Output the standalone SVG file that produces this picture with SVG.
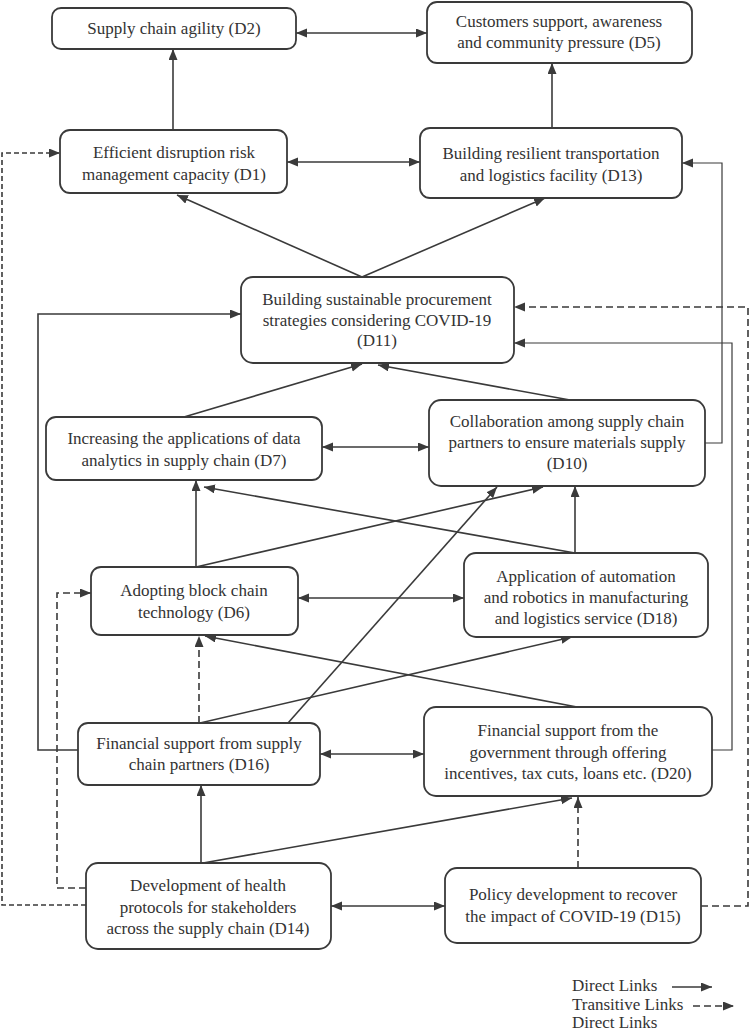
<svg xmlns="http://www.w3.org/2000/svg" width="750" height="1032" viewBox="0 0 750 1032">
<defs>
<marker id="ah" markerUnits="userSpaceOnUse" markerWidth="12" markerHeight="10" refX="11" refY="4.5" orient="auto-start-reverse">
<path d="M0,0 L11,4.5 L0,9 z" fill="#3a3a3a"/>
</marker>
</defs>
<style>
.box{fill:#fff;stroke:#3a3a3a;stroke-width:1.8}
.t{font-family:"Liberation Serif","Times New Roman",serif;font-size:17px;fill:#333;text-anchor:middle}
.lt{font-family:"Liberation Serif","Times New Roman",serif;font-size:17px;fill:#333}
.c{fill:none;stroke:#3a3a3a;stroke-width:1.6}
.thin{stroke-width:1.2}
.d{stroke-dasharray:7,4}
.ds{stroke-dasharray:5,3}
</style>
<rect width="750" height="1032" fill="#fff"/>
<g id="connectors">
<line class="c" x1="296" y1="33" x2="427" y2="33" marker-start="url(#ah)" marker-end="url(#ah)"/>
<line class="c" x1="173" y1="130" x2="173" y2="49" marker-end="url(#ah)"/>
<line class="c" x1="552" y1="128" x2="552" y2="63" marker-end="url(#ah)"/>
<line class="c" x1="287" y1="162" x2="420" y2="162" marker-start="url(#ah)" marker-end="url(#ah)"/>
<line class="c" x1="362" y1="277" x2="177" y2="195" marker-end="url(#ah)"/>
<line class="c" x1="362" y1="277" x2="545" y2="198" marker-end="url(#ah)"/>
<line class="c" x1="184" y1="417" x2="362" y2="364" marker-end="url(#ah)"/>
<line class="c" x1="570" y1="400" x2="378" y2="365" marker-end="url(#ah)"/>
<line class="c" x1="322" y1="447" x2="429" y2="447" marker-start="url(#ah)" marker-end="url(#ah)"/>
<polyline class="c thin" points="705,443 722,443 722,163 682,163" marker-end="url(#ah)"/>
<polyline class="c thin" points="712,750 732,750 732,343 514,343" marker-end="url(#ah)"/>
<polyline class="c d" points="701,906 748,906 748,307 514,307" marker-end="url(#ah)"/>
<polyline class="c ds" points="86,905 2,905 2,153 60,153" marker-end="url(#ah)"/>
<polyline class="c" points="78,750 38,750 38,314 241,314" marker-end="url(#ah)"/>
<line class="c" x1="196" y1="567" x2="196" y2="480" marker-end="url(#ah)"/>
<line class="c" x1="196" y1="567" x2="543" y2="487" marker-end="url(#ah)"/>
<line class="c" x1="575" y1="553" x2="575" y2="486" marker-end="url(#ah)"/>
<line class="c" x1="575" y1="553" x2="204" y2="487" marker-end="url(#ah)"/>
<line class="c" x1="298" y1="598" x2="464" y2="598" marker-start="url(#ah)" marker-end="url(#ah)"/>
<line class="c d" x1="199" y1="723" x2="199" y2="636" marker-end="url(#ah)"/>
<line class="c" x1="200" y1="723" x2="572" y2="637" marker-end="url(#ah)"/>
<line class="c" x1="288" y1="723" x2="497" y2="487" marker-end="url(#ah)"/>
<line class="c" x1="577" y1="707" x2="205" y2="636" marker-end="url(#ah)"/>
<line class="c" x1="320" y1="754" x2="424" y2="754" marker-start="url(#ah)" marker-end="url(#ah)"/>
<polyline class="c d" points="86,888 57,888 57,593 91,593" marker-end="url(#ah)"/>
<line class="c" x1="201" y1="863" x2="201" y2="785" marker-end="url(#ah)"/>
<line class="c" x1="203" y1="863" x2="572" y2="798" marker-end="url(#ah)"/>
<line class="c" x1="331" y1="906" x2="445" y2="906" marker-start="url(#ah)" marker-end="url(#ah)"/>
<line class="c d" x1="578" y1="868" x2="578" y2="797" marker-end="url(#ah)"/>
</g>
<g id="D2"><rect class="box" x="52" y="8" width="244" height="41" rx="9"/><text class="t" x="174" y="34">Supply chain agility (D2)</text></g>
<g id="D5"><rect class="box" x="427" y="2" width="265" height="61" rx="10"/><text class="t" x="559" y="27">Customers support, awareness</text><text class="t" x="559" y="48">and community pressure (D5)</text></g>
<g id="D1"><rect class="box" x="60" y="130" width="227" height="63" rx="10"/><text class="t" x="174" y="158">Efficient disruption risk</text><text class="t" x="174" y="180">management capacity (D1)</text></g>
<g id="D13"><rect class="box" x="420" y="128" width="262" height="70" rx="10"/><text class="t" x="551" y="159">Building resilient transportation</text><text class="t" x="551" y="181">and logistics facility (D13)</text></g>
<g id="D11"><rect class="box" x="241" y="277" width="273" height="86" rx="12"/><text class="t" x="377" y="305">Building sustainable procurement</text><text class="t" x="377" y="326">strategies considering COVID-19</text><text class="t" x="377" y="346">(D11)</text></g>
<g id="D7"><rect class="box" x="46" y="417" width="276" height="63" rx="10"/><text class="t" x="184" y="444">Increasing the applications of data</text><text class="t" x="184" y="466">analytics in supply chain (D7)</text></g>
<g id="D10"><rect class="box" x="429" y="400" width="276" height="86" rx="12"/><text class="t" x="567" y="427">Collaboration among supply chain</text><text class="t" x="567" y="448">partners to ensure materials supply</text><text class="t" x="567" y="469">(D10)</text></g>
<g id="D6"><rect class="box" x="91" y="567" width="207" height="68" rx="10"/><text class="t" x="194" y="596">Adopting block chain</text><text class="t" x="194" y="618">technology (D6)</text></g>
<g id="D18"><rect class="box" x="464" y="553" width="244" height="84" rx="12"/><text class="t" x="586" y="582">Application of automation</text><text class="t" x="586" y="603">and robotics in manufacturing</text><text class="t" x="586" y="624">and logistics service (D18)</text></g>
<g id="D16"><rect class="box" x="78" y="723" width="242" height="62" rx="10"/><text class="t" x="199" y="749">Financial support from supply</text><text class="t" x="199" y="770">chain partners (D16)</text></g>
<g id="D20"><rect class="box" x="424" y="707" width="288" height="89" rx="12"/><text class="t" x="568" y="736">Financial support from the</text><text class="t" x="568" y="758">government through offering</text><text class="t" x="568" y="779">incentives, tax cuts, loans etc. (D20)</text></g>
<g id="D14"><rect class="box" x="86" y="863" width="245" height="86" rx="12"/><text class="t" x="208" y="891">Development of health</text><text class="t" x="208" y="913">protocols for stakeholders</text><text class="t" x="208" y="934">across the supply chain (D14)</text></g>
<g id="D15"><rect class="box" x="445" y="868" width="256" height="75" rx="12"/><text class="t" x="573" y="900">Policy development to recover</text><text class="t" x="573" y="922">the impact of COVID-19 (D15)</text></g>
<g id="legend">
<text class="lt" x="572" y="991">Direct Links</text>
<line class="c" x1="672" y1="987" x2="712" y2="987" marker-end="url(#ah)"/>
<text class="lt" x="572" y="1010">Transitive Links</text>
<line class="c d" x1="693" y1="1006" x2="734" y2="1006" marker-end="url(#ah)"/>
<text class="lt" x="572" y="1028">Direct Links</text>
</g>
</svg>
